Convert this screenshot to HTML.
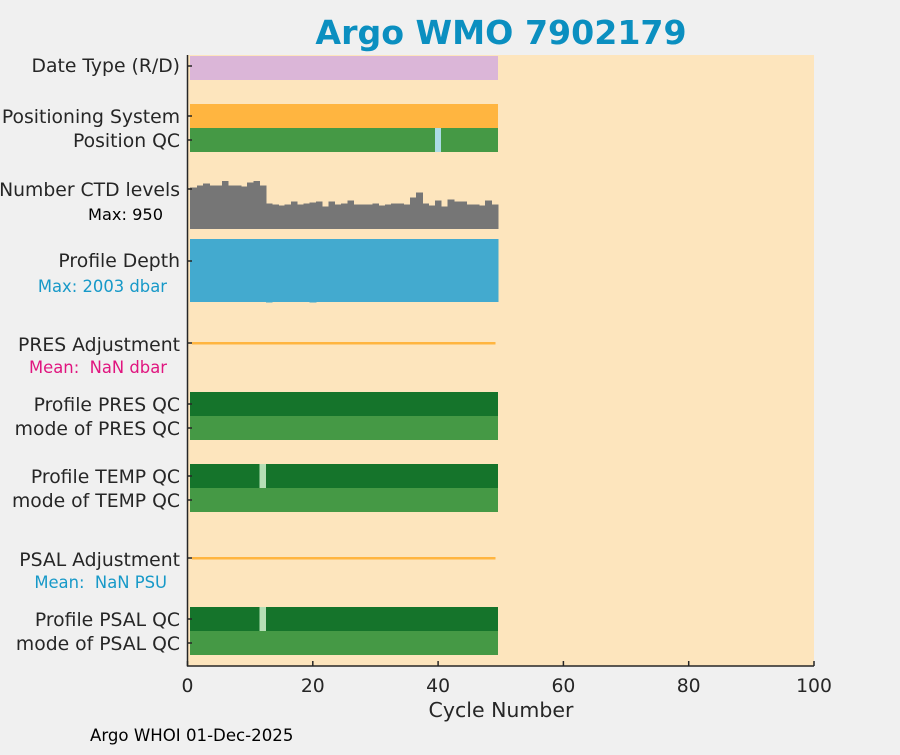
<!DOCTYPE html>
<html><head><meta charset="utf-8"><style>
body{margin:0;background:#f0f0f0;}
svg text{font-family:"DejaVu Sans","Liberation Sans",sans-serif;white-space:pre;}
</style></head><body>
<svg id="chart" width="900" height="750" xmlns="http://www.w3.org/2000/svg">
<rect width="900" height="750" fill="#f0f0f0"/>
<text x="501" y="44" text-anchor="middle" font-size="33.2" font-weight="bold" fill="#0b8fc0">Argo WMO 7902179</text>
<rect x="187.5" y="55" width="626.5" height="611" fill="#fde5bd"/>
<g id="marks" shape-rendering="crispEdges"></g>
<g id="labels" font-size="18.8" fill="#262626" text-anchor="end">
<text x="180" y="72">Date Type (R/D)</text>
<text x="180" y="123">Positioning System</text>
<text x="180" y="147">Position QC</text>
<text x="180" y="196">Number CTD levels</text>
<text x="163" y="220" font-size="16.2" fill="#000">Max: 950</text>
<text x="180" y="267">Profile Depth</text>
<text x="167" y="292" font-size="16.4" fill="#1799c8">Max: 2003 dbar</text>
<text x="180" y="351">PRES Adjustment</text>
<text x="167" y="373" font-size="16.4" fill="#e0157f">Mean:  NaN dbar</text>
<text x="180" y="411">Profile PRES QC</text>
<text x="180" y="435">mode of PRES QC</text>
<text x="180" y="483">Profile TEMP QC</text>
<text x="180" y="507">mode of TEMP QC</text>
<text x="180" y="566">PSAL Adjustment</text>
<text x="167" y="588" font-size="16.4" fill="#1799c8">Mean:  NaN PSU</text>
<text x="180" y="626">Profile PSAL QC</text>
<text x="180" y="650">mode of PSAL QC</text>
</g>
<g id="axes"></g>
<text x="501" y="717" text-anchor="middle" font-size="20.5" fill="#262626">Cycle Number</text>
<text x="90" y="741" font-size="16.6" fill="#000">Argo WHOI 01-Dec-2025</text>
</svg>
<script>
const cycles = Array.from({length:49},(_,i)=>i+1);
const ctdLevels = [825,864,904,864,864,950,864,864,845,924,950,864,508,488,468,488,547,488,508,528,547,449,547,488,508,567,488,488,488,508,468,488,508,508,488,627,726,508,468,567,449,587,547,547,488,488,468,567,488];
const profileDepth = cycles.map(c => (c===13||c===20) ? 2003 : 1990);
const positionQCBad = [40];
const tempQCBad = [12];
const psalQCBad = [12];
const xTicks = [0,20,40,60,80,100];
const NS="http://www.w3.org/2000/svg";
const x = v => 187.5 + v*6.265;
const marks = document.getElementById('marks');
function rect(x0,y0,w,h,fill,name){const r=document.createElementNS(NS,'rect');r.setAttribute('x',x0);r.setAttribute('y',y0);r.setAttribute('width',w);r.setAttribute('height',h);r.setAttribute('fill',fill);


marks.appendChild(r);return r;}
const bx0 = x(cycles[0]-0.6), bx1 = x(cycles[cycles.length-1]+0.6);
function band(y0,h,fill,name,bad,badFill){rect(bx0,y0,bx1-bx0,h,fill,name);(bad||[]).forEach(c=>rect(x(c-0.5),y0,x(c+0.5)-x(c-0.5),h,badFill,name+'-flag-'+c));}
band(56,24,'#dbb6d8','date-type-bar');
band(104,24,'#ffb540','positioning-system-bar');
band(128,24,'#459945','position-qc-bar',positionQCBad,'#acdce6');
const ctdBase=229, ctdH=48, ctdMax=Math.max(...ctdLevels);
cycles.forEach((c,i)=>{const h=ctdLevels[i]/ctdMax*ctdH;const l=i===0?bx0:x(c-0.5);const r=i===cycles.length-1?bx1:x(c+0.5);rect(l,ctdBase-h,r-l+0.5,h,'#767676','ctd-bar-'+c);});
const depthTop=239, depthH=63;
cycles.forEach((c,i)=>{const h=profileDepth[i]/1990*depthH;const l=i===0?bx0:x(c-0.5);const r=i===cycles.length-1?bx1:x(c+0.5);rect(l,depthTop,r-l+0.5,h,'#43aacf','depth-bar-'+c);});
rect(bx0+2,342,x(49.2)-bx0-2,2.5,'#ffb540','pres-adjustment-line');
band(392,24,'#15742b','profile-pres-qc-bar');
band(416,24,'#459945','mode-pres-qc-bar');
band(464,24,'#15742b','profile-temp-qc-bar',tempQCBad,'#b5dfb5');
band(488,24,'#459945','mode-temp-qc-bar');
rect(bx0+2,557,x(49.2)-bx0-2,2.5,'#ffb540','psal-adjustment-line');
band(607,24,'#15742b','profile-psal-qc-bar',psalQCBad,'#b5dfb5');
band(631,24,'#459945','mode-psal-qc-bar');
const axes=document.getElementById('axes');
function line(x1,y1,x2,y2,name){const l=document.createElementNS(NS,'line');l.setAttribute('x1',x1);l.setAttribute('y1',y1);l.setAttribute('x2',x2);l.setAttribute('y2',y2);l.setAttribute('stroke','#262626');l.setAttribute('stroke-width','1.5');


axes.appendChild(l);}
line(187.5,55,187.5,666.5,'y-axis-line');
line(187,666,814,666,'x-axis-line');
[66,116,140,189,261,343,404,428,476,500,558,619,643].forEach((y,i)=>line(187.5,y,192,y,'y-tick-'+i));
xTicks.forEach(t=>{line(x(t),666,x(t),661,'x-tick-'+t);const tx=document.createElementNS(NS,'text');tx.setAttribute('x',x(t));tx.setAttribute('y',692);tx.setAttribute('text-anchor','middle');tx.setAttribute('font-size','18.8');tx.setAttribute('fill','#262626');tx.textContent=t;


axes.appendChild(tx);});
</script>
</body></html>
